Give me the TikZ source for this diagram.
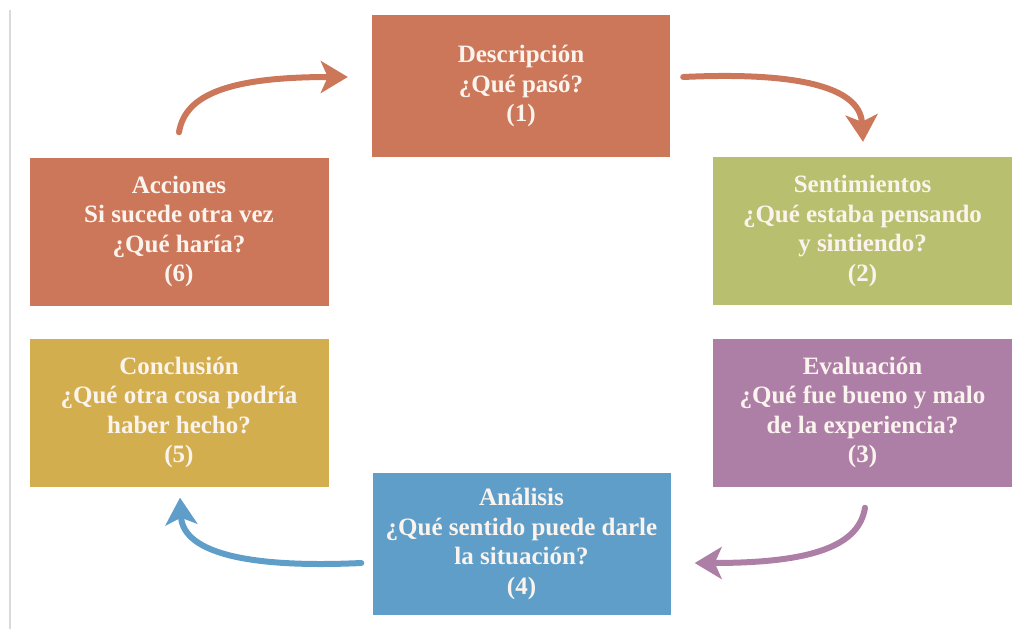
\documentclass[tikz,border=0pt]{standalone}
\usepackage{fontspec}
\setmainfont{Liberation Serif}
\usetikzlibrary{arrows.meta,calc}
\definecolor{corange}{HTML}{CC7759}
\definecolor{cgreen}{HTML}{B8BF6E}
\definecolor{cpurple}{HTML}{AE7FA6}
\definecolor{cblue}{HTML}{5F9EC8}
\definecolor{cgold}{HTML}{D3AE4F}
\definecolor{ctext}{HTML}{FBF4EE}
\definecolor{cline}{HTML}{DADADA}
\begin{document}
\begin{tikzpicture}[x=1pt,y=-1pt,
  stepbox/.style={rectangle, inner sep=0pt, align=center, text=ctext,
    font=\fontsize{25}{29.5}\selectfont\bfseries},
  wide/.style={minimum width=298pt, minimum height=142pt},
  side/.style={minimum width=299pt, minimum height=148pt},
  cyc/.style={line width=6pt, line cap=round,
    -{Stealth[length=27pt,width=32pt,inset=7pt]}}]
\useasboundingbox (0,0) rectangle (1013,629);
\draw[cline, line width=2pt] (10,10) coordinate (l1) -- (10,629) coordinate (l2);
\node[stepbox, wide, fill=corange] (d) at (521,86) {Descripción\\¿Qué pasó?\\(1)};
\node[stepbox, side, fill=cgreen] (s) at (862.5,231) {Sentimientos\\¿Qué estaba pensando\\y sintiendo?\\(2)};
\node[stepbox, side, fill=cpurple] (e) at (862.5,412.5) {Evaluación\\¿Qué fue bueno y malo\\de la experiencia?\\(3)};
\node[stepbox, wide, fill=cblue] (an) at (521.5,544) {Análisis\\¿Qué sentido puede darle\\la situación?\\(4)};
\node[stepbox, side, fill=cgold] (c) at (179,412.5) {Conclusión\\¿Qué otra cosa podría\\haber hecho?\\(5)};
\node[stepbox, side, fill=corange] (ac) at (179,231.5) {Acciones\\Si sucede otra vez\\¿Qué haría?\\(6)};
\coordinate (a0) at ($(ac.north)+(0,-25)$);
\coordinate (a1) at ($(d.west)+(-24,-9)$);
\coordinate (b0) at ($(d.east)+(13,-9)$);
\coordinate (b1) at ($(s.north)+(0.5,-15)$);
\coordinate (c0) at ($(e.south)+(2.5,21)$);
\coordinate (c1) at ($(an.east)+(24,19)$);
\coordinate (d0) at ($(an.west)+(-11,19)$);
\coordinate (d1) at ($(c.south)+(1,11)$);
\draw[cyc, corange] (a0) .. controls +(6,-38) and +(-118,0) .. (a1);
\draw[cyc, corange] (b0) .. controls +(107,-5) and +(-3,-57) .. (b1);
\draw[cyc, cpurple] (c0) .. controls +(-6,38) and +(118,0) .. (c1);
\draw[cyc, cblue] (d0) .. controls +(-107,5) and +(3,57) .. (d1);
\end{tikzpicture}
\end{document}
